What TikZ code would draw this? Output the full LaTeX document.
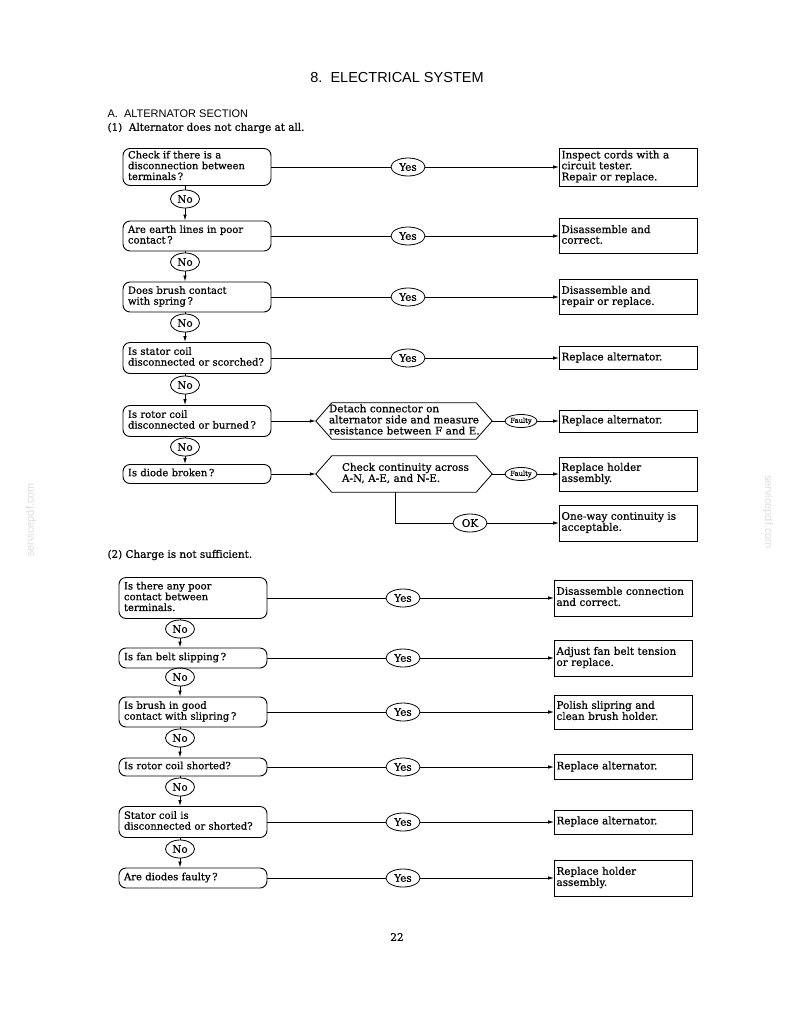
\documentclass[tikz,border=0pt]{standalone}
\usepackage{fontspec}
\setmainfont{DejaVu Serif}[FakeBold=0.6]
\newfontfamily\titlefont{Liberation Sans}
\usetikzlibrary{shapes.geometric,arrows.meta,calc}
\newcommand{\mylines}[1]{\begin{tabular}{@{}l@{}}#1\end{tabular}}
\begin{document}
\begin{tikzpicture}[x=1pt,y=-1pt,
  every node/.style={font=\fontsize{10.4}{10.6}\selectfont},
  dec/.style={draw, line width=0.9pt, rounded corners=7pt, minimum width=148pt, text width=138pt, align=left, inner xsep=5pt, inner ysep=2pt, font=\fontsize{10}{10.6}\selectfont},
  res/.style={draw, line width=0.9pt, minimum width=137pt, text width=134pt, align=left, inner xsep=2pt, inner ysep=2pt},
  ov/.style={draw, ellipse, line width=0.8pt, inner sep=0pt, minimum width=34pt, minimum height=18pt},
  novl/.style={ov, minimum width=29pt},
  fov/.style={draw, ellipse, line width=0.8pt, inner sep=0pt, minimum width=32pt, minimum height=13pt, font=\fontsize{6.8}{7}\selectfont},
  hexn/.style={minimum width=176pt, minimum height=36pt, align=left, inner sep=0pt},
  ln/.style={line width=0.8pt},
  arr/.style={line width=0.8pt, -{Latex[length=6pt,width=3.5pt]}},
  wm/.style={text=black!13, font=\titlefont\fontsize{11}{11}\selectfont},
]
\useasboundingbox (0,0) rectangle (794,1028);
\fill[white] (0,0) rectangle (794,1028);

% headings
\node[font=\titlefont\fontsize{14.5}{15}\selectfont] (title) at (397,78) {8.\ \ ELECTRICAL SYSTEM};
\node[anchor=west, font=\titlefont\fontsize{11}{11}\selectfont] (secA) at (104,114) {A.\ \ ALTERNATOR SECTION};
\node[anchor=west] (sub1) at (104,128) {(1)\ \ Alternator does not charge at all.};
\node[anchor=west] (sub2) at (104,555) {(2) Charge is not sufficient.};
\node (page) at (397,937) {22};
\node[wm, rotate=90] (wm1) at (31,520) {servicepdf.com};
\node[wm, rotate=-90] (wm2) at (768,512) {servicepdf.com};

% ---------- section 1 ----------
\node[dec, minimum height=37pt] (a1) at (197,167) {\mylines{Check if there is a\\disconnection between\\terminals\,?}};
\node[dec, minimum height=30pt] (a2) at (197,236) {\mylines{Are earth lines in poor\\contact\,?}};
\node[dec, minimum height=30pt] (a3) at (197,297) {\mylines{Does brush contact\\with spring\,?}};
\node[dec, minimum height=31pt] (a4) at (197,358) {\mylines{Is stator coil\\disconnected or scorched?}};
\node[dec, minimum height=31pt] (a5) at (197,421) {\mylines{Is rotor coil\\disconnected or burned\,?}};
\node[dec, minimum height=19pt] (a6) at (197,474) {\mylines{Is diode broken\,?}};

\node[ov] (ya1) at (408,167) {Yes};
\node[ov] (ya2) at (408,236) {Yes};
\node[ov] (ya3) at (408,297) {Yes};
\node[ov] (ya4) at (408,358) {Yes};

\node[res, minimum height=38pt] (ra1) at (628.5,167) {\mylines{Inspect cords with a\\circuit tester.\\Repair or replace.}};
\node[res, minimum height=35pt] (ra2) at (628.5,236) {\mylines{Disassemble and\\correct.}};
\node[res, minimum height=35pt] (ra3) at (628.5,297) {\mylines{Disassemble and\\repair or replace.}};
\node[res, minimum height=23pt] (ra4) at (628.5,358) {\mylines{Replace alternator.}};
\node[res, minimum height=22pt] (ra5) at (628.5,421) {\mylines{Replace alternator.}};
\node[res, minimum height=34pt] (ra6) at (628.5,474) {\mylines{Replace holder\\assembly.}};
\node[res, minimum height=36pt] (ra7) at (628.5,523) {\mylines{One-way continuity is\\acceptable.}};

\node[hexn, text width=150pt] (h5) at (404,421) {\mylines{Detach connector on\\alternator side and measure\\resistance between F and E.}};
\node[hexn, text width=124pt] (h6) at (404,474) {\mylines{Check continuity across\\A-N, A-E, and N-E.}};
\foreach \h in {h5,h6}{
  \draw[ln] (\h.west) -- ($(\h.north west)+(16,0)$) -- ($(\h.north east)+(-16,0)$) -- (\h.east)
    -- ($(\h.south east)+(-16,0)$) -- ($(\h.south west)+(16,0)$) -- cycle;
}
\node[fov] (f5) at (521,421) {Faulty};
\node[fov] (f6) at (521,474) {Faulty};
\node[ov] (ok) at (470,523) {OK};
\coordinate (c6) at (395,523);

\node[novl] (na1) at (185,199) {No};
\node[novl] (na2) at (185,262) {No};
\node[novl] (na3) at (185,323) {No};
\node[novl] (na4) at (185,385) {No};
\node[novl] (na5) at (185,447) {No};

\foreach \i in {1,2,3,4}{
  \draw[ln] (a\i) -- (ya\i);
  \draw[arr] (ya\i) -- (ra\i);
}
\draw[arr] (a5) -- (h5);
\draw[ln] (h5) -- (f5);
\draw[arr] (f5) -- (ra5);
\draw[arr] (a6) -- (h6);
\draw[ln] (h6) -- (f6);
\draw[arr] (f6) -- (ra6);
\draw[ln] (h6.south -| c6) -- (c6) -- (ok);
\draw[arr] (ok) -- (ra7);

\foreach \i/\j in {1/2,2/3,3/4,4/5,5/6}{
  \draw[ln] (a\i.south -| na\i) -- (na\i.north);
  \draw[arr] (na\i.south) -- (na\i.south |- a\j.north);
}

% ---------- section 2 ----------
\node[dec, minimum height=41pt] (b1) at (193,598) {\mylines{Is there any poor\\contact between\\terminals.}};
\node[dec, minimum height=20pt] (b2) at (193,658) {\mylines{Is fan belt slipping\,?}};
\node[dec, minimum height=30pt] (b3) at (193,712) {\mylines{Is brush in good\\contact with slipring\,?}};
\node[dec, minimum height=18pt] (b4) at (193,767) {\mylines{Is rotor coil shorted?}};
\node[dec, minimum height=31pt] (b5) at (193,822) {\mylines{Stator coil is\\disconnected or shorted?}};
\node[dec, minimum height=20pt] (b6) at (193,878) {\mylines{Are diodes faulty\,?}};

\node[ov] (yb1) at (403,598) {Yes};
\node[ov] (yb2) at (403,658) {Yes};
\node[ov] (yb3) at (403,712) {Yes};
\node[ov] (yb4) at (403,767) {Yes};
\node[ov] (yb5) at (403,822) {Yes};
\node[ov] (yb6) at (403,878) {Yes};

\node[res, minimum height=36pt] (rb1) at (623.5,598) {\mylines{Disassemble connection\\and correct.}};
\node[res, minimum height=36pt] (rb2) at (623.5,658) {\mylines{Adjust fan belt tension\\or replace.}};
\node[res, minimum height=34pt] (rb3) at (623.5,712) {\mylines{Polish slipring and\\clean brush holder.}};
\node[res, minimum height=25pt] (rb4) at (623.5,767) {\mylines{Replace alternator.}};
\node[res, minimum height=24pt] (rb5) at (623.5,822) {\mylines{Replace alternator.}};
\node[res, minimum height=36pt] (rb6) at (623.5,878) {\mylines{Replace holder\\assembly.}};

\node[novl] (nb1) at (180,629) {No};
\node[novl] (nb2) at (180,677) {No};
\node[novl] (nb3) at (180,738) {No};
\node[novl] (nb4) at (180,787) {No};
\node[novl] (nb5) at (180,849) {No};

\foreach \i in {1,...,6}{
  \draw[ln] (b\i) -- (yb\i);
  \draw[arr] (yb\i) -- (rb\i);
}
\foreach \i/\j in {1/2,2/3,3/4,4/5,5/6}{
  \draw[ln] (b\i.south -| nb\i) -- (nb\i.north);
  \draw[arr] (nb\i.south) -- (nb\i.south |- b\j.north);
}
\end{tikzpicture}
\end{document}
